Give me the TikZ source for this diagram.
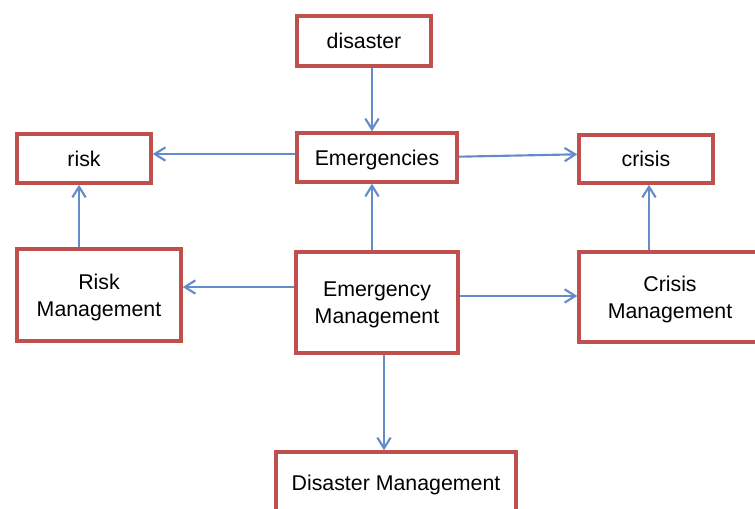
\documentclass[tikz,border=0pt]{standalone}
\usepackage{fontspec}
\setmainfont{Liberation Sans}
\usetikzlibrary{arrows.meta}

\definecolor{boxred}{RGB}{192,80,77}
\definecolor{linkblue}{RGB}{100,140,200}

\begin{document}
\begin{tikzpicture}[x=0.75pt,y=-0.75pt,
    box/.style={draw=boxred, line width=2.6pt, fill=white, inner sep=0pt, align=center,
      text depth=0pt, font=\fontsize{16}{20}\selectfont},
    link/.style={draw=linkblue, line width=1.6pt, -{Straight Barb[length=8pt,width=10pt]}}]
    			\useasboundingbox (0,0) rectangle (755,509);
    			\clip (0,0) rectangle (755,509);

    			%Boxes
    			\node[box, minimum width=134*0.75pt, minimum height=50*0.75pt] (disaster) at (364,41) {disaster};
    			\node[box, minimum width=160*0.75pt, minimum height=49*0.75pt] (emerg) at (377,157.5) {Emergencies};
    			\node[box, minimum width=134*0.75pt, minimum height=49*0.75pt] (risk) at (84,158.5) {risk};
    			\node[box, minimum width=134*0.75pt, minimum height=48*0.75pt] (crisis) at (646,159) {crisis};
    			\node[box, minimum width=164*0.75pt, minimum height=92*0.75pt] (riskmgmt) at (99,295) {Risk\\Management};
    			\node[box, minimum width=162*0.75pt, minimum height=101*0.75pt] (emgmt) at (377,302.5) {Emergency\\Management};
    			\node[box, minimum width=182*0.75pt, minimum height=90*0.75pt] (crisismgmt) at (670,297) {Crisis\\Management};
    			\node[box, minimum width=240*0.75pt, minimum height=62*0.75pt] (dismgmt) at (396,483) {Disaster Management};

    			%Arrows
    			\draw[link] ([xshift=-3.75pt]emerg.north |- disaster.south) -- ([xshift=-3.75pt]emerg.north);
    			\draw[link] ([yshift=2.6pt]emerg.west) -- ([yshift=2.6pt]risk.east |- emerg.west);
    			\draw[link] ([yshift=0.6pt]emerg.east) -- ([yshift=3.5pt]crisis.west);
    			\draw[link] ([xshift=-3.75pt]emgmt.north) -- ([xshift=-3.75pt]emerg.south);
    			\draw[link] ([yshift=11.6pt]emgmt.west) -- ([yshift=11.6pt]riskmgmt.east |- emgmt.west);
    			\draw[link] ([yshift=4.9pt]emgmt.east) -- ([yshift=4.9pt]crisismgmt.west |- emgmt.east);
    			\draw[link] ([xshift=-3.75pt]risk.south |- riskmgmt.north) -- ([xshift=-3.75pt]risk.south);
    			\draw[link] ([xshift=2.25pt]crisis.south |- crisismgmt.north) -- ([xshift=2.25pt]crisis.south);
    			\draw[link] ([xshift=5.25pt]emgmt.south) -- ([xshift=5.25pt]emgmt.south |- dismgmt.north);
  		\end{tikzpicture}
\end{document}
